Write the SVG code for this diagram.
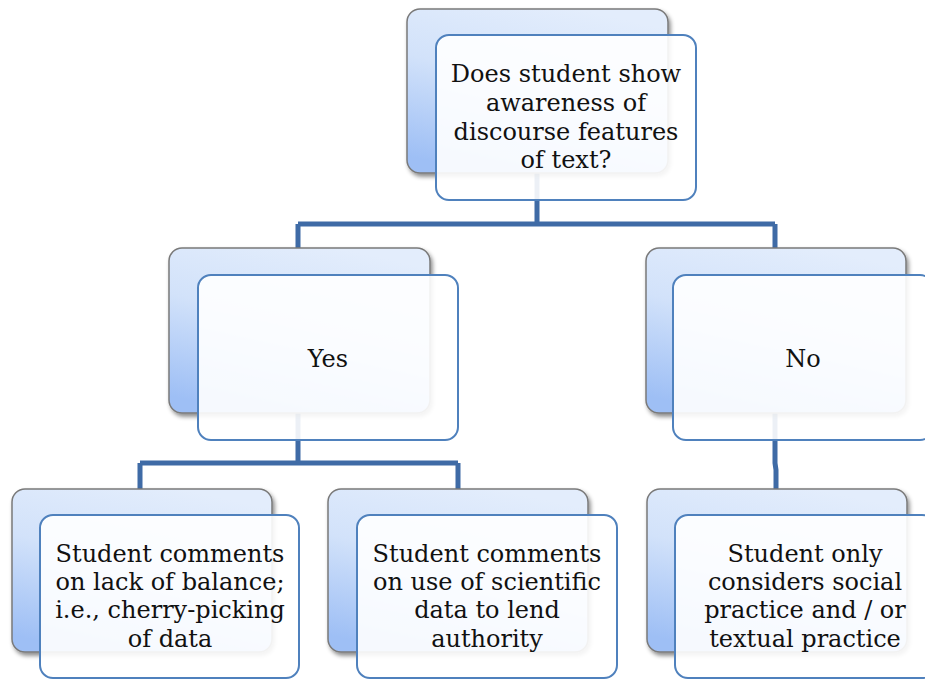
<svg xmlns="http://www.w3.org/2000/svg" width="925" height="680" viewBox="0 0 925 680">
  <defs>
    <linearGradient id="backFill" x1="0.65" y1="0" x2="0.3" y2="1">
      <stop offset="0" stop-color="#e3edfc"/>
      <stop offset="0.45" stop-color="#d2e2fa"/>
      <stop offset="1" stop-color="#9ebff5"/>
    </linearGradient>
    <filter id="shadow" x="-10%" y="-10%" width="125%" height="125%">
      <feDropShadow dx="2" dy="3" stdDeviation="2" flood-color="#000" flood-opacity="0.45"/>
    </filter>
  </defs>
  <style>
    .back { fill: url(#backFill); stroke: #7a7a7a; stroke-width: 1.5; filter: url(#shadow); }
    .front { fill: #ffffff; fill-opacity: 0.9; stroke: #4f81bd; stroke-width: 2; }
    .link { fill: none; stroke: #3f6ba6; stroke-width: 5; }
    text { font-family: "DejaVu Serif", "Liberation Serif", serif; font-size: 24px; fill: #111; text-anchor: middle; }
  </style>
  <rect width="925" height="680" fill="#ffffff"/>

  <!-- connectors drawn first so boxes sit on top -->
  <g id="connectors">
    <path class="link" d="M537 173 V224 M298 224 H775 M298 224 V248 M775 224 V248"/>
    <path class="link" d="M298 413 V463 M140 463 H458 M140 463 V489 M458 463 V489"/>
    <path class="link" d="M775 413 V463 L776 470 V489"/>
  </g>

  <g id="root">
    <rect class="back" x="407" y="9" width="261" height="164" rx="13"/>
    <rect class="front" x="436" y="35" width="260" height="165" rx="13"/>
    <text x="566" y="82">Does student show</text>
    <text x="566" y="111">awareness of</text>
    <text x="566" y="140">discourse features</text>
    <text x="566" y="168">of text?</text>
  </g>

  <g id="yes">
    <rect class="back" x="169" y="248" width="261" height="165" rx="13"/>
    <rect class="front" x="198" y="275" width="260" height="165" rx="13"/>
    <text x="328" y="367">Yes</text>
  </g>

  <g id="no">
    <rect class="back" x="646" y="248" width="260" height="165" rx="13"/>
    <rect class="front" x="673" y="275" width="260" height="165" rx="13"/>
    <text x="803" y="367">No</text>
  </g>

  <g id="balance">
    <rect class="back" x="12" y="489" width="260" height="163" rx="13"/>
    <rect class="front" x="40" y="515" width="259" height="163" rx="13"/>
    <text x="170" y="562">Student comments</text>
    <text x="170" y="590">on lack of balance;</text>
    <text x="170" y="618">i.e., cherry-picking</text>
    <text x="170" y="647">of data</text>
  </g>

  <g id="authority">
    <rect class="back" x="328" y="489" width="260" height="163" rx="13"/>
    <rect class="front" x="357" y="515" width="260" height="163" rx="13"/>
    <text x="487" y="562">Student comments</text>
    <text x="487" y="590">on use of scientific</text>
    <text x="487" y="618">data to lend</text>
    <text x="487" y="647">authority</text>
  </g>

  <g id="practice">
    <rect class="back" x="647" y="489" width="260" height="163" rx="13"/>
    <rect class="front" x="675" y="515" width="260" height="163" rx="13"/>
    <text x="805" y="562">Student only</text>
    <text x="805" y="590">considers social</text>
    <text x="805" y="618">practice and / or</text>
    <text x="805" y="647">textual practice</text>
  </g>
</svg>
